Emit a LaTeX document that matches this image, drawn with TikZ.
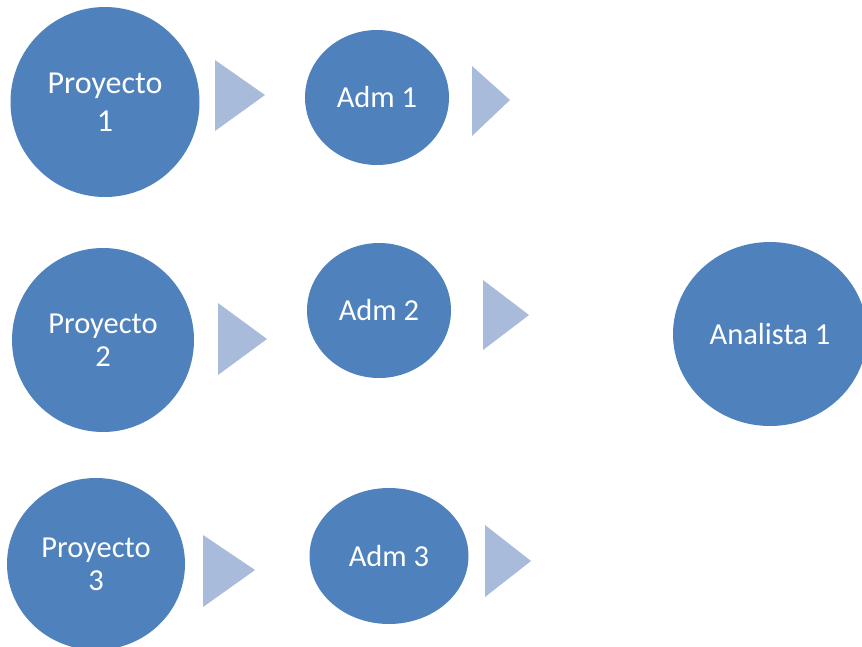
\documentclass[tikz,border=0pt]{standalone}
\usepackage{fontspec}
\setmainfont{Carlito}
\usetikzlibrary{shapes.geometric}
\definecolor{discblue}{HTML}{4F81BD}
\definecolor{chevron}{HTML}{A9BBDA}
\tikzset{
  disc/.style={ellipse, fill=discblue, text=white, inner sep=0pt, align=center,
               font=\fontsize{30.5}{33}\selectfont},
  pointer/.style={fill=chevron, draw=none}
}
\begin{document}
\begin{tikzpicture}[x=1pt, y=-1pt]
  \useasboundingbox (0,0) rectangle (862,646);
  \clip (0,0) rectangle (862,646);

  % projects
  \node[disc, minimum width=189pt, minimum height=190pt,
        font=\fontsize{32}{38}\selectfont] (p1) at (105,102) {Proyecto\\1};
  \node[disc, minimum width=182pt, minimum height=184pt] (p2) at (103,340) {Proyecto\\2};
  \node[disc, minimum width=178pt, minimum height=172pt] (p3) at (96,564) {Proyecto\\3};

  % administrators
  \node[disc, minimum width=144pt, minimum height=135pt] (a1) at (377,97.5) {Adm 1};
  \node[disc, minimum width=144pt, minimum height=135pt] (a2) at (379,310.5) {Adm 2};
  \node[disc, minimum width=159pt, minimum height=136pt] (a3) at (389,556) {Adm 3};

  % analyst
  \node[disc, minimum width=194pt, minimum height=184pt] (an) at (770,334) {Analista 1};

  % chevrons between the stages
  \fill[pointer] (215,60) -- (265,95) -- (215,131) -- cycle;
  \fill[pointer] (472,66) -- (510,100) -- (472,136) -- cycle;
  \fill[pointer] (218,303) -- (267,339) -- (218,375) -- cycle;
  \fill[pointer] (483,280) -- (529,315) -- (483,350) -- cycle;
  \fill[pointer] (203,535) -- (255,570) -- (203,607) -- cycle;
  \fill[pointer] (485,525) -- (531,561) -- (485,597) -- cycle;
\end{tikzpicture}
\end{document}
